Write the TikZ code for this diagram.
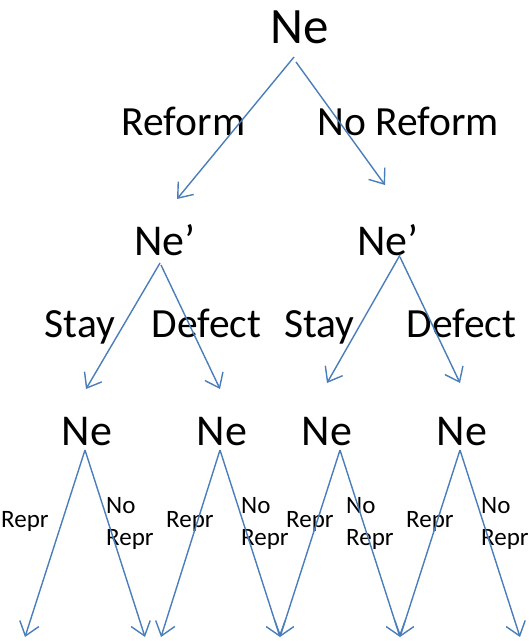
\documentclass[tikz,border=0pt]{standalone}
\usepackage{fontspec}
\setmainfont{Carlito}
\usetikzlibrary{arrows.meta}
\definecolor{linkblue}{HTML}{4A7EBB}
\tikzset{
  lbl/.style={inner sep=0pt, anchor=base, text=black},
  big/.style={lbl, font=\fontsize{51}{60}\selectfont},
  mid/.style={lbl, font=\fontsize{44}{52}\selectfont},
  act/.style={lbl, font=\fontsize{41.5}{50}\selectfont},
  small/.style={inner sep=0pt, anchor=base west, text=black, font=\fontsize{25}{33}\selectfont},
  small2/.style={inner sep=0pt, anchor=north west, text=black, align=left, font=\fontsize{25}{32}\selectfont},
  link/.style={draw=linkblue, line width=1.4pt, -{Straight Barb[length=13pt,width=20pt,line width=1.4pt]}}
}
\begin{document}
\begin{tikzpicture}[x=1pt,y=-1pt]
\useasboundingbox (0,0) rectangle (530,641);
% nodes
\node[big] (n0) at (300,43) {Ne};
\node[mid] (n1) at (165,255) {Ne’};
\node[mid] (n2) at (388,255) {Ne’};
\node[mid] (n3) at (87,445) {Ne};
\node[mid] (n4) at (222,445) {Ne};
\node[mid] (n5) at (327,445) {Ne};
\node[mid] (n6) at (462,445) {Ne};
% action labels
\node[act] (l1) at (183.5,135) {Reform};
\node[act] (l2) at (408,135) {No Reform};
\node[act] (l3) at (80,337) {Stay};
\node[act] (l4) at (206.5,337) {Defect};
\node[act] (l5) at (319.5,337) {Stay};
\node[act] (l6) at (461.5,337) {Defect};
\node[small] (r1) at (1,527) {Repr};
\node[small] (r2) at (166,527) {Repr};
\node[small] (r3) at (286,527) {Repr};
\node[small] (r4) at (406,527) {Repr};
\node[small2] (q1) at (106,497) {No\\Repr};
\node[small2] (q2) at (241,497) {No\\Repr};
\node[small2] (q3) at (346,497) {No\\Repr};
\node[small2] (q4) at (481,497) {No\\Repr};
% connector end points
\coordinate (s0a) at (294,57);
\coordinate (s0b) at (296,62);
\coordinate (e0a) at (177,199);
\coordinate (e0b) at (385,185);
\coordinate (s1a) at (160,263);
\coordinate (s1b) at (161,265);
\coordinate (e1a) at (86,389);
\coordinate (e1b) at (220,389);
\coordinate (s2a) at (400,255);
\coordinate (s2b) at (400,257);
\coordinate (e2a) at (327,383);
\coordinate (e2b) at (460,383);
\coordinate (a3) at (85,450);
\coordinate (a4) at (220,450);
\coordinate (a5) at (340,450);
\coordinate (a6) at (460,450);
\coordinate (t1) at (25,637);
\coordinate (t2) at (145,637);
\coordinate (t3) at (161,637);
\coordinate (t4) at (280,637);
\coordinate (t5) at (280,637);
\coordinate (t6) at (400,637);
\coordinate (t7) at (400,637);
\coordinate (t8) at (520,637);
% connectors
\draw[link] (s0a) -- (e0a);
\draw[link] (s0b) -- (e0b);
\draw[link] (s1a) -- (e1a);
\draw[link] (s1b) -- (e1b);
\draw[link] (s2a) -- (e2a);
\draw[link] (s2b) -- (e2b);
\draw[link] (a3) -- (t1);
\draw[link] (a3) -- (t2);
\draw[link] (a4) -- (t3);
\draw[link] (a4) -- (t4);
\draw[link] (a5) -- (t5);
\draw[link] (a5) -- (t6);
\draw[link] (a6) -- (t7);
\draw[link] (a6) -- (t8);
\end{tikzpicture}
\end{document}
